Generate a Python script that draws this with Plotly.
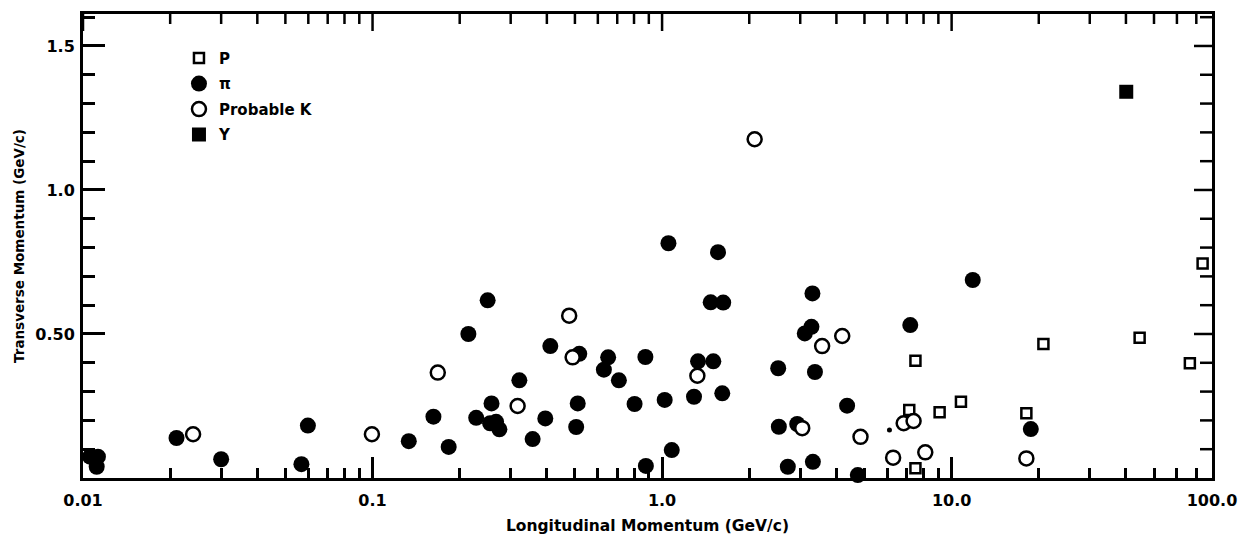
import plotly.graph_objects as go

# ---- data ----
pi_x = [0.01057, 0.01115, 0.01126, 0.02104, 0.0300, 0.0568, 0.0598, 0.1334, 0.1623, 0.1832,
        0.2143, 0.2498, 0.228, 0.2576, 0.2547, 0.2671, 0.2742, 0.3214, 0.3572, 0.3951,
        0.4111, 0.5176, 0.5113, 0.5050, 0.6513, 0.6295, 0.7093, 0.8036, 0.8758, 0.879,
        1.052, 1.021, 1.080, 1.56, 1.472, 1.626, 1.331, 1.503, 1.289, 1.614,
        2.518, 2.531, 2.929, 2.718, 3.306, 3.111, 3.28, 3.373, 3.318, 4.355,
        4.742, 7.198, 11.83, 18.77]
pi_y = [0.074, 0.039, 0.074, 0.139, 0.065, 0.048, 0.182, 0.128, 0.213, 0.108,
        0.500, 0.617, 0.209, 0.259, 0.190, 0.195, 0.169, 0.339, 0.135, 0.207,
        0.458, 0.431, 0.259, 0.177, 0.419, 0.376, 0.339, 0.257, 0.420, 0.042,
        0.815, 0.271, 0.097, 0.784, 0.610, 0.609, 0.405, 0.405, 0.282, 0.294,
        0.381, 0.178, 0.1875, 0.039, 0.641, 0.502, 0.525, 0.368, 0.056, 0.251,
        0.010, 0.531, 0.6875, 0.170]

k_x = [0.0240, 0.0995, 0.168, 0.317, 0.4777, 0.491, 1.324, 3.048, 2.088, 3.571,
       4.19, 4.845, 6.28, 6.83, 7.39, 8.11, 18.12]
k_y = [0.152, 0.152, 0.366, 0.250, 0.5635, 0.419, 0.355, 0.173, 1.176, 0.458,
       0.493, 0.143, 0.0705, 0.190, 0.198, 0.089, 0.068]

p_x = [7.14, 7.50, 7.50, 9.09, 10.77, 18.12, 20.75, 44.6, 66.5, 73.6]
p_y = [0.236, 0.407, 0.034, 0.228, 0.265, 0.2247, 0.465, 0.487, 0.398, 0.745]

y_x = [40.1]
y_y = [1.341]

# off-scale marker (arrow at left edge) and a stray small dot
arrow_x = [0.0092]
arrow_y = [0.0625]
dot_x = [6.10]
dot_y = [0.167]

x_major_vals = [0.01, 0.1, 1, 10, 79.3]
x_major_text = ["0.01", "0.1", "1.0", "10.0", "100.0"]
x_minor_vals = [m * d for d in [0.01, 0.1, 1, 10] for m in range(2, 10) if m * d < 79]
y_major_vals = [0.5, 1.0, 1.5]
y_major_text = ["0.50", "1.0", "1.5"]
y_minor_vals = [0.1, 0.2, 0.3, 0.4, 0.6, 0.7, 0.8, 0.9, 1.1, 1.2, 1.3, 1.4, 1.6]

FONT = "DejaVu Sans"
XR = [-2, 1.8993]
YR = [0, 1.611]

fig = go.Figure()
fig.add_trace(go.Scatter(
    x=p_x, y=p_y, mode="markers", name="P", legendgroup="p",
    marker=dict(symbol="square", size=10, color="white", line=dict(color="black", width=2.5)),
    cliponaxis=False))
fig.add_trace(go.Scatter(
    x=pi_x, y=pi_y, mode="markers", name="π", legendgroup="pi",
    marker=dict(symbol="circle", size=16, color="black", line=dict(width=0)),
    cliponaxis=False))
fig.add_trace(go.Scatter(
    x=k_x, y=k_y, mode="markers", name="Probable K", legendgroup="k",
    marker=dict(symbol="circle", size=14, color="white", line=dict(color="black", width=2.5)),
    cliponaxis=False))
fig.add_trace(go.Scatter(
    x=y_x, y=y_y, mode="markers", name="Y", legendgroup="y",
    marker=dict(symbol="square", size=14, color="black", line=dict(width=0)),
    cliponaxis=False))
fig.add_trace(go.Scatter(
    x=arrow_x, y=arrow_y, mode="markers", showlegend=False,
    marker=dict(symbol="triangle-left", size=12, color="black"), cliponaxis=False))
fig.add_trace(go.Scatter(
    x=dot_x, y=dot_y, mode="markers", showlegend=False,
    marker=dict(symbol="circle", size=5, color="black"), cliponaxis=False))

# top / right frame ticks, placed on the axes' own scales with pixel lengths
shapes = []
for v, ln in [(v, 17) for v in x_major_vals[:-1]] + [(v, 10) for v in x_minor_vals]:
    shapes.append(dict(type="line", xref="x", x0=v, x1=v, yref="paper", ysizemode="pixel",
                       yanchor=1, y0=0, y1=-ln, line=dict(color="black", width=2.5)))
for v, ln in [(v, 18) for v in y_major_vals] + [(v, 12) for v in y_minor_vals]:
    shapes.append(dict(type="line", yref="y", y0=v, y1=v, xref="paper", xsizemode="pixel",
                       xanchor=1, x0=0, x1=-ln, line=dict(color="black", width=2.5)))

fig.update_layout(
    width=1245, height=535,
    margin=dict(l=83, r=33, t=14, b=57, autoexpand=False),
    paper_bgcolor="white", plot_bgcolor="white",
    font=dict(family=FONT, size=14, color="black", weight="bold"),
    showlegend=True,
    shapes=shapes,
    legend=dict(x=0.085, y=0.94, xanchor="left", yanchor="top",
                bgcolor="rgba(0,0,0,0)", borderwidth=0,
                font=dict(family=FONT, size=15, color="black", weight="bold"),
                traceorder="grouped", tracegroupgap=3, itemwidth=30),
    xaxis=dict(
        type="log", range=XR, automargin=False,
        showgrid=False, zeroline=False, showline=True, mirror=True,
        linecolor="black", linewidth=3,
        tickmode="array", tickvals=x_major_vals, ticktext=x_major_text,
        ticks="inside", ticklen=21, tickwidth=2.5, tickcolor="black", ticklabelstandoff=6,
        tickfont=dict(family=FONT, size=16, color="black", weight="bold"),
        minor=dict(tickmode="array", tickvals=x_minor_vals, ticks="inside",
                   ticklen=10, tickwidth=2.5, tickcolor="black", showgrid=False),
        title=dict(text="Longitudinal Momentum (GeV/c)", standoff=11,
                   font=dict(family=FONT, size=15.5, color="black", weight="bold")),
    ),
    yaxis=dict(
        range=YR, automargin=False,
        showgrid=False, zeroline=False, showline=True, mirror=True,
        linecolor="black", linewidth=3,
        tickmode="array", tickvals=y_major_vals, ticktext=y_major_text,
        ticks="inside", ticklen=22, tickwidth=2.5, tickcolor="black", ticklabelstandoff=2,
        tickfont=dict(family=FONT, size=16, color="black", weight="bold"),
        minor=dict(tickmode="array", tickvals=y_minor_vals, ticks="inside",
                   ticklen=12, tickwidth=2.5, tickcolor="black", showgrid=False),
        title=dict(text="Transverse Momentum (GeV/c)", standoff=8,
                   font=dict(family=FONT, size=13.5, color="black", weight="bold")),
    ),
)

fig.write_html("out.html")
